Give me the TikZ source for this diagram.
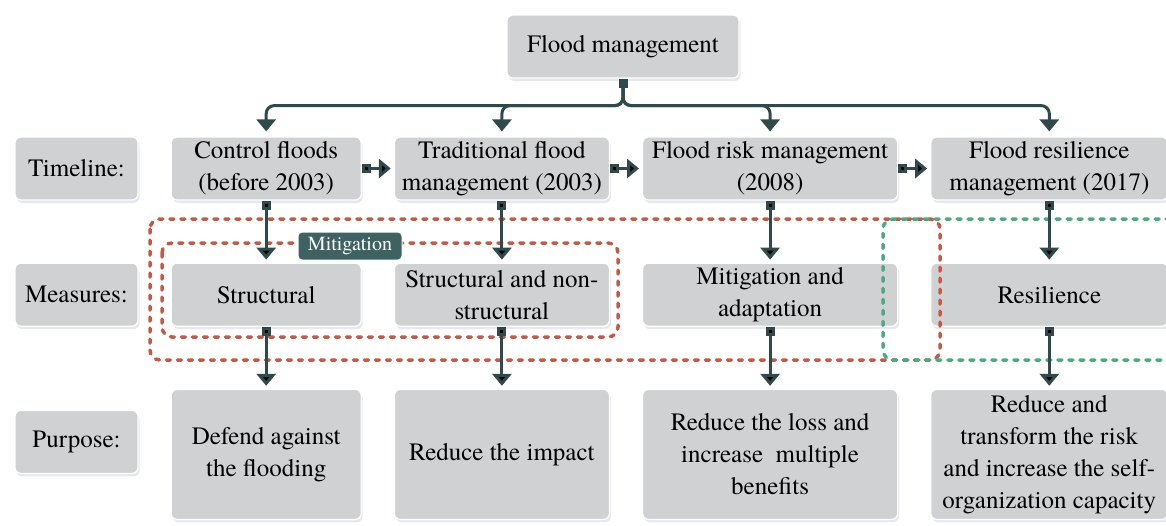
\documentclass[tikz,border=0pt]{standalone}
\usepackage{fontspec}
\setmainfont{texgyretermes-regular.otf}[BoldFont=texgyretermes-bold.otf]
\usetikzlibrary{arrows.meta,shapes,positioning,shadows}

\definecolor{boxgray}{RGB}{207,209,211}
\definecolor{linkteal}{RGB}{46,74,74}
\definecolor{tagteal}{RGB}{62,98,98}
\definecolor{dashred}{RGB}{200,88,68}
\definecolor{dashgreen}{RGB}{72,172,128}

\tikzset{
  box/.style={rectangle, rounded corners=6pt, fill=boxgray, draw=white, line width=1.2pt,
    minimum height=63pt, inner sep=0pt, align=center, font=\fontsize{25}{32}\selectfont,
    drop shadow={shadow xshift=1.5pt, shadow yshift=-3pt, opacity=0.3, fill=blue!25!gray!50}},
  link/.style={draw=linkteal, line width=3pt,
    {Square[length=9pt,width=9pt]}-{Triangle[length=12pt,width=19pt]}, shorten >=3pt},
  mitbox/.style={draw=dashred, line width=3.5pt, dash pattern=on 4pt off 7pt, line cap=round, rounded corners=10pt},
  resbox/.style={mitbox, draw=dashgreen},
  tag/.style={rectangle, rounded corners=4pt, fill=tagteal, draw=white, line width=1pt, text=white,
    minimum width=104pt, minimum height=28pt, inner sep=0pt, font=\fontsize{20}{24}\selectfont}
}

\begin{document}
\begin{tikzpicture}[x=1pt, y=1pt, node distance=62pt and 32pt]
  \useasboundingbox (0,0) rectangle (1166,-525);

  % top
  \node[box, minimum width=232pt] (fm) at (623,-46.5) {Flood management};

  % timeline row
  \node[box, minimum width=123pt] (tl) at (76.5,-168.5) {Timeline:};
  \node[box, minimum width=190pt, right=of tl] (c1) {Control floods\\(before 2003)};
  \node[box, minimum width=215pt, right=of c1] (c2) {Traditional flood\\management (2003)};
  \node[box, minimum width=255pt, right=of c2] (c3) {Flood risk management\\(2008)};
  \node[box, minimum width=237pt, right=of c3] (c4) {Flood resilience\\management (2017)};

  % measures row
  \node[box, minimum width=123pt, below=of tl] (ml) {Measures:};
  \node[box, minimum width=190pt, below=of c1] (m1) {Structural};
  \node[box, minimum width=215pt, below=of c2] (m2) {Structural and non-\\structural};
  \node[box, minimum width=255pt, below=of c3] (m3) {Mitigation and\\adaptation};
  \node[box, minimum width=237pt, below=of c4] (m4) {Resilience};

  % purpose row
  \node[box, minimum width=123pt, below=of ml, yshift=-21pt] (pl) {Purpose:};
  \node[box, minimum width=190pt, minimum height=130pt, below=of m1] (p1) {Defend against\\the flooding};
  \node[box, minimum width=215pt, minimum height=130pt, below=of m2] (p2) {Reduce the impact};
  \node[box, minimum width=255pt, minimum height=130pt, below=of m3] (p3) {Reduce the loss and\\increase~ multiple\\benefits};
  \node[box, minimum width=237pt, minimum height=130pt, below=of m4] (p4) {Reduce and\\transform the risk\\and increase the self-\\organization capacity};

  % groups
  \draw[mitbox] (150,-219) rectangle (940,-360);
  \draw[mitbox] (162,-243) rectangle (618,-337);
  \draw[resbox] (1170,-219) -- (883,-219) -- (883,-360) -- (1170,-360);

  \foreach \n in {c1,c2,c3,c4}
    \draw[link, rounded corners=8pt, shorten >=5pt] (fm.south) -- ++(0,-27) -| (\n.north);

  \draw[link] (c1) edge (c2);
  \draw[link] (c2) edge (c3);
  \draw[link] (c3) edge (c4);

  \foreach \i in {1,...,4} {
    \draw[link] (c\i) edge (m\i);
    \draw[link] (m\i) edge (p\i);
  }

  \node[tag] (mit) at (350,-246) {Mitigation};
\end{tikzpicture}
\end{document}
